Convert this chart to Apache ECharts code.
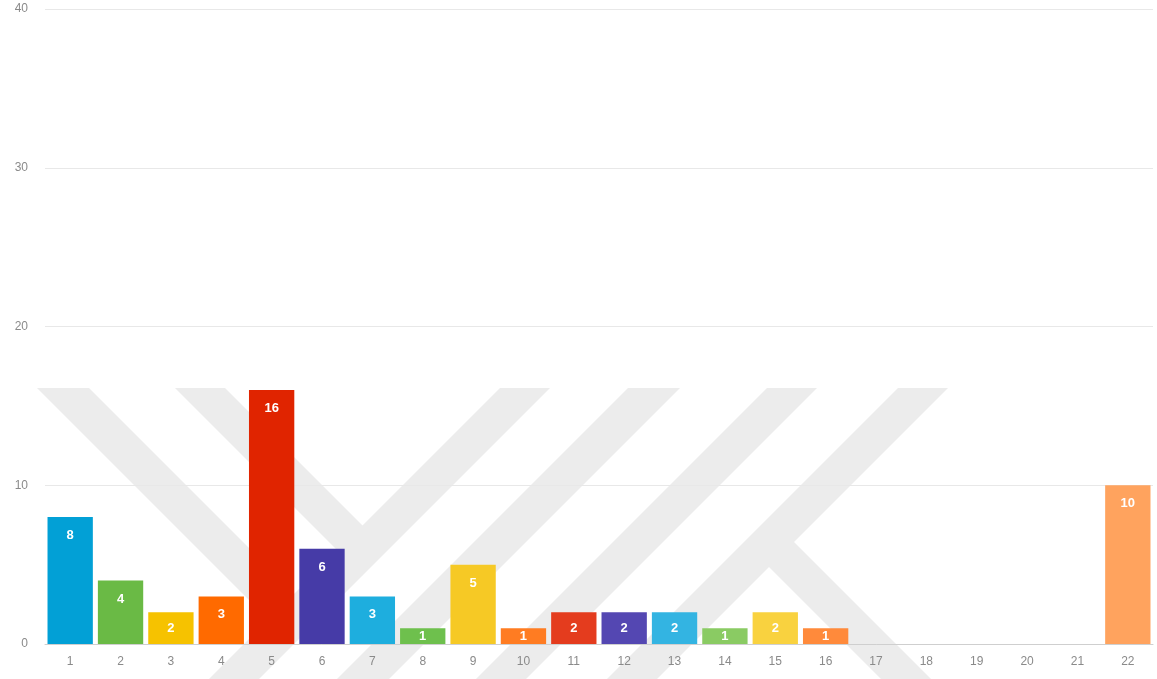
<!DOCTYPE html>
<html>
<head>
<meta charset="utf-8">
<script src="https://cdn.jsdelivr.net/npm/echarts@6/dist/echarts.min.js"></script>
<style>
html,body{margin:0;padding:0;background:#fff;}
#chart{width:1157px;height:679px;}
</style>
</head>
<body>
<div id="chart"></div>
<script>
const categories = ['1','2','3','4','5','6','7','8','9','10','11','12','13','14','15','16','17','18','19','20','21','22'];
const values = [8,4,2,3,16,6,3,1,5,1,2,2,2,1,2,1,0,0,0,0,0,10];
const barColors = ['#02a0d6','#6aba45','#f6c200','#ff6a00','#e02400','#463ba7','#1eaede','#6ec04d','#f6c925','#ff7c22','#e43c1e','#5447b2','#33b4e2','#8acb63','#f9d23f','#ff8a3b','#cccccc','#cccccc','#cccccc','#cccccc','#cccccc','#ffa35e'];
const yTicks = {min: 0, max: 40, interval: 10};

// light watermark stripes (background decoration)
const wm = '#ececec';
const stripes = [
  [[37,388],[89,388],[294.5,593.5],[293.5,644.5]],
  [[175,388],[225,388],[362.5,525.5],[362.5,575.5]],
  [[500,388],[550,388],[259,679],[209,679]],
  [[628,388],[680,388],[389,679],[337,679]],
  [[767,388],[817,388],[526,679],[476,679]],
  [[898,388],[948,388],[657,679],[607,679]],
  [[744,542],[794,542],[931,679],[881,679]]
];

const chart = echarts.init(document.getElementById('chart'));
const data = values.map((v, i) => ({
  value: v,
  itemStyle: {color: barColors[i]},
  label: v <= 2 ? {position: 'inside'} : {position: 'insideTop', distance: 12}
}));

chart.setOption({
  animation: false,
  backgroundColor: '#ffffff',
  graphic: stripes.map(p => ({
    type: 'polygon', z: -10, silent: true,
    shape: {points: p},
    style: {fill: wm}
  })),
  grid: {left: 45, right: 4, top: 9, bottom: 35},
  xAxis: {
    type: 'category',
    data: categories,
    axisLine: {lineStyle: {color: '#cfcfcf'}},
    axisTick: {show: false},
    axisLabel: {color: '#8a8a8a', fontSize: 12, margin: 12, fontFamily: 'Liberation Sans, Arial, sans-serif'}
  },
  yAxis: {
    type: 'value',
    min: yTicks.min, max: yTicks.max, interval: yTicks.interval,
    axisLine: {show: false},
    axisTick: {show: false},
    splitLine: {lineStyle: {color: '#e8e8e8'}},
    axisLabel: {color: '#8a8a8a', fontSize: 12, margin: 17, fontFamily: 'Liberation Sans, Arial, sans-serif'}
  },
  series: [{
    type: 'bar',
    data: data,
    barCategoryGap: '10%',
    label: {
      show: true,
      color: '#ffffff',
      fontWeight: 'bold',
      fontSize: 13,
      fontFamily: 'Liberation Sans, Arial, sans-serif',
      formatter: p => (p.value ? String(p.value) : '')
    }
  }]
});
</script>
</body>
</html>
